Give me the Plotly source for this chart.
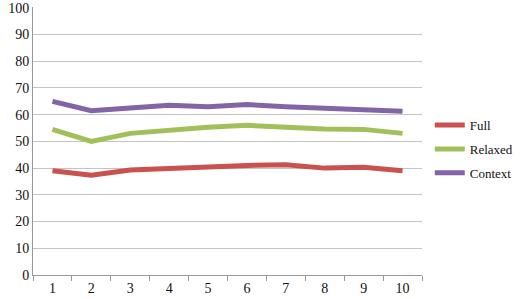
import plotly.graph_objects as go

categories = ["1", "2", "3", "4", "5", "6", "7", "8", "9", "10"]
full = [39, 37.3, 39.3, 40, 40.5, 41, 41.3, 40, 40.3, 39]
relaxed = [54.5, 50, 53, 54.3, 55.3, 56, 55.3, 54.6, 54.5, 53]
context = [65, 61.5, 62.5, 63.5, 63, 63.8, 63, 62.3, 62, 61.3]

series = [("Full", full, "#C9514E"), ("Relaxed", relaxed, "#A2C05A"), ("Context", context, "#8265A6")]

fig = go.Figure()
for name, vals, col in series:
    fig.add_trace(go.Scatter(x=categories, y=vals, mode="lines", name=name, legendgroup=name,
                             line=dict(color=col, width=5)))

fig.update_layout(
    width=520, height=299,
    margin=dict(l=33, r=98, t=7, b=24, autoexpand=False),
    paper_bgcolor="white", plot_bgcolor="white",
    font=dict(family="Liberation Serif", size=14, color="#111"),
    legend=dict(x=1.02, xanchor="left", y=0.47, yanchor="middle",
                font=dict(size=13), itemwidth=30, tracegroupgap=4),
    xaxis=dict(type="category", range=[-0.5, 9.5], tickson="boundaries", ticks="outside", ticklen=5,
               tickcolor="#999", showline=True, linecolor="#999", linewidth=1,
               showgrid=False, zeroline=False),
    yaxis=dict(range=[0, 100.3], tickvals=list(range(0, 101, 10)), showgrid=True, gridcolor="#c4c4c4",
               showline=True, linecolor="#999", zeroline=False, ticks="", ticklabeloverflow="allow"),
)
fig.write_html("out.html", config={"displayModeBar": False},
               post_script="document.body.style.margin='0';document.body.style.overflow='hidden';")
